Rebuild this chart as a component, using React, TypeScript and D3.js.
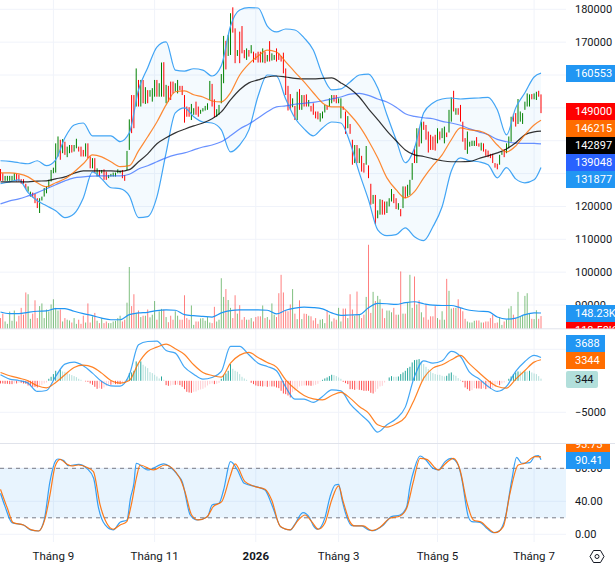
import React from "react";
import * as d3 from "d3";

// ---- daily bars, prices in thousands
const barHigh = [
  131.4,130.1,129.3,129.3,129.3,129.3,130.1,129.9,129.7,128.3,
  128.3,126.9,126.1,124.5,124.2,123.8,122.5,122.5,123.0,125.6,
  126.1,128.1,131.1,131.8,139.2,141.3,140.3,140.5,139.7,138.2,
  138.7,138.7,138.7,140.6,138.2,138.2,137.2,139.2,139.2,135.2,
  134.7,134.7,131.6,131.1,131.1,131.3,130.6,129.6,129.9,130.3,
  130.3,131.3,130.9,131.1,129.6,136.9,146.5,153.9,153.9,162.0,
  158.5,158.5,158.5,156.3,155.4,155.4,156.0,158.5,158.5,157.5,
  163.8,163.9,157.0,156.7,158.0,158.0,157.5,158.5,156.7,156.7,
  153.9,150.4,150.2,151.2,149.9,151.9,150.4,149.4,149.9,150.6,
  151.4,158.2,157.3,152.6,149.6,150.9,160.3,171.9,170.4,172.2,
  178.8,180.6,174.2,167.6,173.2,174.9,167.6,168.1,167.6,169.1,
  167.1,166.6,167.1,167.1,168.1,167.1,166.1,170.3,166.6,166.1,
  168.1,166.6,165.8,166.8,162.0,156.7,154.2,152.9,150.6,154.9,
  155.7,153.9,153.9,154.1,152.4,150.6,151.4,148.9,148.9,148.4,
  148.9,150.9,150.6,152.9,153.9,153.9,153.9,152.9,152.9,150.4,
  148.9,147.5,145.1,140.3,138.7,138.7,137.7,135.4,133.2,138.4,
  132.5,126.9,123.5,123.5,118.8,122.2,122.0,121.5,121.5,122.5,
  125.3,123.8,122.5,121.0,119.2,126.1,126.1,126.6,128.1,133.2,
  138.2,143.8,143.8,145.8,145.8,144.8,142.8,141.8,141.3,141.8,
  143.8,142.8,143.8,144.3,142.5,149.4,153.2,155.2,149.9,149.9,
  150.9,145.8,140.8,142.8,139.7,140.0,140.0,141.1,139.2,139.4,
  139.2,137.4,137.0,136.0,136.0,133.2,133.0,135.7,136.7,137.4,
  139.2,141.3,147.3,148.2,148.4,152.7,148.9,148.4,151.9,154.4,
  154.1,154.2,154.4,154.9,155.2,154.1,
];
const barLow = [
  127.8,127.8,127.8,127.8,127.8,127.8,127.8,127.6,127.6,126.9,
  126.9,125.3,124.5,123.0,122.8,121.0,119.5,118.0,121.8,123.0,
  124.0,125.8,127.6,130.1,130.3,135.2,134.2,136.2,135.7,135.0,
  136.2,136.4,136.7,137.7,136.7,135.2,135.2,135.2,134.7,131.6,
  131.6,130.1,129.1,129.1,130.1,128.1,128.1,128.6,129.1,129.1,
  129.1,130.1,130.1,128.6,127.8,131.1,137.2,142.3,143.8,150.4,
  150.4,150.4,151.4,151.2,151.4,153.4,151.9,153.4,153.4,153.4,
  153.4,153.4,151.4,151.9,152.4,154.4,155.0,154.4,155.4,153.9,
  145.5,147.3,147.3,146.3,147.9,147.9,147.3,148.2,148.9,149.2,
  149.4,152.4,150.4,147.1,147.3,147.9,151.4,157.5,161.7,165.8,
  166.1,172.9,163.6,165.8,163.6,166.6,165.1,164.6,165.6,166.6,
  163.8,164.6,163.8,163.8,163.8,163.6,164.1,164.1,164.4,164.6,
  164.1,164.6,164.1,160.5,153.9,149.2,149.4,150.2,146.3,146.3,
  149.4,149.4,150.4,150.4,150.4,148.9,147.9,146.8,146.5,145.8,
  146.8,148.6,149.4,150.4,151.4,151.9,151.4,151.4,146.8,149.4,
  142.1,143.8,142.1,132.7,133.2,133.2,133.2,130.6,130.3,132.7,
  128.6,120.5,120.8,114.6,116.4,117.5,117.5,117.5,118.0,120.0,
  121.5,121.0,119.2,119.0,117.0,119.5,122.5,123.0,123.5,128.1,
  133.2,133.2,138.2,139.2,143.3,140.3,136.4,137.2,137.2,137.0,
  139.2,140.3,140.8,139.2,141.1,142.5,145.8,148.9,147.9,147.9,
  145.8,139.7,137.2,136.0,138.2,138.4,138.4,138.4,138.2,137.0,
  136.7,135.4,135.0,134.7,133.2,131.8,131.3,132.7,135.7,135.0,
  136.2,137.7,139.7,145.8,144.3,145.1,145.8,145.1,149.4,150.4,
  150.4,152.6,152.6,152.4,153.4,148.4,
];
const barDir = (
  "RRGGGGGRRR" + "RRGGRRRGGG" + "GGGGGGRGRG" + "GRGGRRRGRR" + "GRGRGRRGGG" +
  "GGGRRGGRRG" + "RGRGRGGGRG" + "GRGRRRGGRR" + "RRRGGRRGGG" + "GGRRGGGGRG" +
  "GRRGRRRGRG" + "RRRRGRGRGG" + "RRRRRRRGRG" + "RGRRGRRRRG" + "GGRGGRRGGR" +
  "RGRRGRGRRG" + "RRGRGGRRGG" + "GRRGRGRGGG" + "RGRGRRRRRR" + "GRGGRGGRGR" +
  "RRRGGGGRRG" + "RRRRRRRGGR" + "GGGRRGGGGG" + "GRGGRR"
).split("");

// volume per bar, in K
const volume = [
  99,142,66,43,162,73,172,66,122,198,
  132,347,330,92,142,271,99,215,241,99,
  182,165,231,281,198,172,182,66,99,83,
  76,56,99,43,83,43,122,56,241,56,
  116,149,73,50,99,50,66,50,50,66,
  73,99,122,66,83,248,594,215,330,149,
  172,109,122,122,182,106,132,264,83,165,
  188,182,109,59,122,83,165,122,83,83,
  320,99,83,221,33,66,66,96,99,73,
  109,56,50,208,66,83,485,304,380,274,
  198,99,320,142,224,83,109,83,83,99,
  66,109,116,116,221,99,109,83,241,132,
  109,340,518,347,175,165,231,380,142,89,
  271,89,142,139,122,116,76,99,43,83,
  89,50,175,132,66,96,83,198,66,191,
  191,99,330,182,122,356,132,99,132,304,
  809,149,353,264,314,281,191,99,172,172,
  155,198,132,132,551,142,142,254,518,198,
  502,231,271,155,106,231,83,116,116,215,
  99,83,165,83,479,363,191,198,198,281,
  198,165,92,66,56,56,73,76,76,56,
  56,66,66,99,132,50,56,109,33,66,
  83,191,215,132,99,353,116,122,314,340,
  149,92,89,175,92,118.5,
];

// MACD histogram per bar
const macdHist = [
  -424,-424,-477,-477,-530,-530,-424,-424,-318,-318,
  -424,-477,-742,-848,-954,-954,-1060,-795,-636,-424,
  -265,318,636,1060,1590,1378,1749,1484,1431,1166,
  1060,901,742,583,318,159,0,-106,-159,-424,
  -636,-954,-1272,-1166,-1272,-1060,-848,-636,-636,-530,
  -530,-530,-530,-477,-371,212,1219,1325,1590,3074,
  2756,3074,2544,2279,2014,1378,1219,954,689,371,
  689,159,-689,-795,-742,-636,-636,-583,-689,-954,
  -1325,-1749,-1855,-1908,-1749,-1696,-1484,-1378,-1272,-1060,
  -742,-530,-424,-530,-477,-318,318,954,1166,1590,
  2650,1908,1590,1431,1060,636,371,159,0,-318,
  -530,-742,-848,-848,-901,-848,-954,-901,-901,-901,
  -1060,-1166,-1590,-2014,-2120,-2332,-2650,-1802,-1590,-1325,
  -901,-795,-742,-742,-742,-795,-742,-636,-477,-106,
  159,371,530,742,954,901,742,530,318,-159,
  -371,-530,-1325,-1325,-1431,-1325,-1431,-1484,-1590,-1590,
  -1590,-1908,-2014,-1749,-1272,-901,-795,-265,0,530,
  742,636,636,689,1060,1325,1590,2014,2226,2915,
  3286,3339,3445,3074,2650,2226,1855,1484,1219,1060,
  954,954,795,689,795,1166,1325,954,795,424,
  159,-212,-1060,-1325,-1590,-1484,-1166,-1219,-1219,-1272,
  -1166,-1325,-1219,-1272,-1166,-954,-530,-689,-424,-265,
  -53,318,689,1060,1325,1484,1484,1325,1484,1484,
  1590,1325,1166,1060,742,344,
];

// ---- indicator lines, read every 4th bar plus the last one
const lineIndex = [...d3.range(0, 236, 4), 235];

const bbUpper = [
  133.9,133.7,133.3,133.0,133.9,132.4,134.2,140.9,144.8,145.4,
  141.5,141.5,141.5,139.7,142.4,155.5,162.2,168.5,170.1,161.5,
  161.2,161.9,161.5,159.7,162.8,174.9,179.8,180.5,180.4,174.9,
  173.1,174.0,173.7,171.3,167.6,160.0,155.5,155.8,157.9,160.0,
  160.3,156.1,147.9,140.3,133.3,137.8,148.5,151.5,152.7,153.0,
  152.7,152.9,153.0,153.2,149.4,141.8,150.0,154.6,159.4,160.553,
];
const bbLower = [
  126.9,127.5,128.1,124.2,121.7,120.2,118.7,116.6,117.8,122.6,
  130.5,128.4,125.7,125.4,123.2,116.6,116.9,122.9,136.3,148.5,
  150.0,147.3,145.7,145.4,143.3,136.6,138.7,143.3,153.6,160.0,
  159.7,152.7,146.9,143.6,141.5,143.9,145.7,145.4,139.4,130.2,
  122.0,112.9,111.1,111.4,113.5,110.8,109.6,113.8,119.9,130.8,
  134.8,133.9,133.6,132.7,128.7,131.8,128.4,127.2,128.1,131.877,
];
const bbBasis = [
  130.2,130.2,129.9,129.0,127.2,126.0,127.2,128.4,130.5,133.0,
  135.7,135.1,133.6,132.1,132.4,136.9,141.2,145.7,150.9,154.9,
  155.2,154.0,153.3,152.1,151.8,154.6,160.0,163.4,165.8,167.6,
  167.0,164.0,160.9,157.9,154.6,151.5,150.3,150.3,147.9,144.5,
  140.0,134.8,128.7,125.1,122.6,124.5,128.7,132.4,135.7,140.3,
  143.9,143.3,143.0,141.8,138.7,136.6,138.4,141.8,144.8,146.215,
];
const maBlack = [
  127.5,127.5,127.5,127.5,127.7,127.8,128.4,129.0,130.1,130.8,
  130.8,130.8,130.8,130.7,131.2,133.6,136.0,139.1,140.9,142.4,
  143.5,144.5,145.4,146.7,148.8,152.4,155.5,157.6,158.5,159.4,
  159.7,159.4,159.0,158.8,158.8,159.0,159.1,157.6,155.8,153.3,
  149.7,146.4,143.0,140.0,137.2,135.7,135.2,134.5,133.9,133.6,
  133.6,133.7,134.6,135.4,136.3,137.5,139.4,141.8,142.7,142.897,
];
const maBlue = [
  120.8,121.7,122.3,123.2,124.2,125.4,126.6,127.8,128.7,129.0,
  129.2,129.3,129.3,129.3,129.8,131.4,132.4,133.6,134.8,135.7,
  136.3,137.2,138.1,138.7,139.7,141.5,143.6,145.1,146.9,148.8,
  150.3,150.6,151.1,151.4,151.7,152.1,152.7,153.3,154.2,154.4,
  153.8,152.7,151.8,150.2,148.2,147.4,147.0,146.7,145.9,145.4,
  144.7,143.6,142.7,141.8,140.4,139.7,139.3,139.2,139.2,139.048,
];
const volumeMa = [
  158,142,142,155,165,168,191,191,165,142,
  122,99,83,83,132,149,155,172,178,175,
  132,122,116,109,149,172,178,178,178,175,
  139,175,195,205,201,188,149,125,129,132,
  198,241,238,231,248,257,238,224,221,221,
  198,175,165,162,109,89,99,132,149,148.23,
];
const macdLine = [
  952,265,53,-370,-1693,-1534,688,2645,2962,2380,
  1217,-106,-794,-846,952,5713,6242,6295,4814,4391,
  2169,1058,265,529,1481,5449,5449,4126,2804,2275,
  1587,-1005,-2910,-2910,-3439,-2486,-1428,-1587,-3650,-5131,
  -6454,-8147,-6983,-6031,-4179,688,3174,2804,3174,4655,
  3862,1323,317,-899,-1693,-899,1481,3068,4020,3688,
];
const macdSignal = [
  1323,794,423,0,-794,-1111,-265,952,2116,2486,
  2169,1217,53,-370,53,2804,4655,5343,5819,5078,
  4179,2539,1323,846,582,2804,4073,4497,3703,2910,
  2169,159,-1270,-2328,-2857,-3015,-2328,-1852,-2751,-4073,
  -5131,-6983,-7353,-6824,-5766,-2910,423,2010,2539,3333,
  4020,2645,1323,53,-899,-1164,265,1640,2962,3344,
];

// stochastic turns faster, so its lines are read at their own bars
const stochKIndex = [
  0,2,5,10,13,16.5,19,21.5,24,25,27.5,29.5,34,37.5,40.5,42.5,45.5,49,52,55,
  56.5,58,59,64,71,77,79,82.5,85.5,90,92,95,97,100,103,106,111,115,118,122,
  126,128,131.5,134.5,136,138,141,143.3,145.5,147,148.5,150.5,152.7,157,160,162,166.5,170,173.7,176.6,
  178,180,182.4,185,188,190.4,193.3,196,199,200.5,203.4,204.9,208.5,211.4,214.3,216.4,219.4,222.3,224.4,226.6,
  230.2,232.4,233.8,235,
];
const stochK = [
  49.7,33.5,14.1,11.3,5.3,4,17.4,63.8,89.3,91.3,89.3,83.2,84.8,80,67.9,33.5,11.3,5.3,14.5,17.4,
  43.6,61.8,86.1,78,85.3,71.9,63.8,23.4,17.4,21.4,35.6,37.6,53.7,88.1,78,61.8,57.8,53.7,35.6,8.5,
  5.3,12.5,26.3,19.4,10.5,6.1,19.4,45.7,59.8,60.6,41.6,21.4,10.5,10.1,5.3,4.4,11.3,21.4,23.4,33.5,
  57.8,80,94.9,90.1,80,78,88.1,92.1,84,67.9,21.4,15.4,14.5,7.3,2,3.2,19.4,65.9,93.3,86.1,
  86.9,94.9,95.4,90.41,
];
const stochDIndex = [
  0,3,5.5,10,13.5,16.5,19.4,21.5,23.7,25.9,28.8,31,33.8,37.5,40.4,43.3,46.2,49,52,54.9,
  57,59.2,60.7,66.5,71.5,78,80.2,83.1,86,89.6,92.5,96.2,99.8,102,106.3,110.7,115,117.9,121.5,125.9,
  129.5,132.4,135.3,138.2,141,144,147,149,151.9,154,157.7,161.4,165,169.3,173.7,176.6,179.5,182.4,185.3,190.4,
  193.3,196.9,199.8,202.7,205.6,209.2,212,215,218.6,221.5,225.1,228,232.4,235,
];
const stochD = [
  54.5,31.5,14.1,11.3,5.3,4,19.4,47.7,82,90.9,85.3,82.8,84,81.2,76,35.6,13.3,6.1,11.3,15.4,
  37.6,69.9,84,78,84,67.9,51.7,23.4,17.4,20.6,33.5,39.6,69.9,85.3,63.8,57.8,54.5,41.6,10.1,5.3,
  17.4,23.4,15.4,6.1,13.3,41.6,58.6,39.6,15.4,10.1,10.1,4.4,8.5,19.4,22.2,31.5,63.8,92.1,90.9,78,
  85.3,92.1,78,39.6,17.4,14.5,7.3,2,9.3,49.7,84,86.1,94.1,93.73,
];

// ---- axes
const priceTicks = [180, 170, 160, 150, 140, 130, 120, 110, 100, 90];
const macdTicks = [5000, 0, -5000];
const stochTicks = [80, 40, 0];
const stochLevels = [80, 20];
const timeIndex = [23, 67, 111, 147, 190, 232];
const timeLabels = ["Tháng 9", "Tháng 11", "2026", "Tháng 3", "Tháng 5", "Tháng 7"];

const FONT = "Roboto, sans-serif";
const GRID = "#f0f3fa";
const BORDER = "#e0e3eb";
const BB_BLUE = "#42a5f5";
const AXIS_X = 566;
const TEXT_X = 575;
// scale ticks that sit fully behind a value box in the picture
const coveredPrice = [160, 150, 140, 130];
const coveredMacd = [5000, 0];

const x = d3.scaleLinear().domain([0, 235]).range([0.5, 541]);
const yPrice = d3.scaleLinear().domain([110, 180]).range([239.3, 9.3]);
const yVol = d3.scaleLinear().domain([0, 148.23]).range([328.3, 313]);
const yMacd = d3.scaleLinear().domain([-5000, 5000]).range([412.3, 349.3]);
const yStoch = d3.scaleLinear().domain([0, 80]).range([534.3, 468.3]);

function path(values: number[], y: d3.ScaleLinear<number, number>, index: number[] = lineIndex) {
  const line = d3.line<number>()
    .x((_, i) => x(index[i]))
    .y((d) => y(d))
    .curve(d3.curveMonotoneX);
  return line(values) || "";
}

function priceBox(label: string, top: number, color: string, width = 49, textColor = "#fff") {
  return (
    <g key={label}>
      <rect x={AXIS_X} y={top} width={width} height={17} fill={color} />
      <text x={TEXT_X} y={top + 12.3} fill={textColor} fontSize={11}>{label}</text>
    </g>
  );
}

export default function App() {
  const bbArea = d3.area<number>()
    .x((_, i) => x(lineIndex[i]))
    .y0((_, i) => yPrice(bbLower[i]))
    .y1((d) => yPrice(d))
    .curve(d3.curveMonotoneX)(bbUpper) || "";

  return (
    <svg width={615} height={565} style={{ position: "absolute", left: 0, top: 0, background: "#fff" }} fontFamily={FONT}>
      <defs>
        <clipPath id="topPane"><rect x={0} y={0} width={615} height={328.5} /></clipPath>
        <clipPath id="stochPane"><rect x={0} y={444} width={615} height={99} /></clipPath>
      </defs>

      {/* grid */}
      {priceTicks.map((t) => (
        <line key={t} x1={0} x2={AXIS_X} y1={yPrice(t)} y2={yPrice(t)} stroke={GRID} strokeWidth={1} />
      ))}
      {macdTicks.filter((t) => t !== 0).map((t) => (
        <line key={t} x1={0} x2={AXIS_X} y1={yMacd(t)} y2={yMacd(t)} stroke={GRID} strokeWidth={1} />
      ))}
      {stochTicks.map((t) => (
        <line key={t} x1={0} x2={AXIS_X} y1={yStoch(t)} y2={yStoch(t)} stroke={GRID} strokeWidth={1} />
      ))}
      {timeIndex.map((i) => (
        <line key={i} x1={x(i)} x2={x(i)} y1={0} y2={542} stroke={GRID} strokeWidth={1} />
      ))}
      <line x1={0} x2={615} y1={328.8} y2={328.8} stroke={BORDER} />
      <line x1={0} x2={615} y1={443.5} y2={443.5} stroke={BORDER} strokeWidth={1} />

      {/* main pane */}
      <path d={bbArea} fill="#2196f3" fillOpacity={0.05} />
      {barHigh.map((h, i) => (
        <line
          key={i}
          x1={x(i)}
          x2={x(i)}
          y1={yPrice(h)}
          y2={yPrice(barLow[i])}
          stroke={barDir[i] === "G" ? "#008000" : "#ff0000"}
          strokeWidth={1}
        />
      ))}
      <path d={path(bbUpper, yPrice)} fill="none" stroke={BB_BLUE} strokeWidth={1.2} />
      <path d={path(bbLower, yPrice)} fill="none" stroke={BB_BLUE} strokeWidth={1.2} />
      <path d={path(maBlue, yPrice)} fill="none" stroke="#2962ff" strokeOpacity={0.7} strokeWidth={1.2} />
      <path d={path(maBlack, yPrice)} fill="none" stroke="#000" strokeOpacity={0.8} strokeWidth={1.2} />
      <path d={path(bbBasis, yPrice)} fill="none" stroke="#ff6d00" strokeOpacity={0.8} strokeWidth={1.2} />

      {/* volume */}
      {volume.map((v, i) => (
        <line
          key={i}
          x1={x(i)}
          x2={x(i)}
          y1={yVol(v)}
          y2={yVol(0)}
          stroke={barDir[i] === "G" ? "#008000" : "#ff0000"}
          strokeOpacity={0.5}
          strokeWidth={1}
        />
      ))}
      <path d={path(volumeMa, yVol)} fill="none" stroke="#2196f3" strokeWidth={1.2} />

      {/* macd */}
      {macdHist.map((v, i) => {
        const prev = i > 0 ? macdHist[i - 1] : v;
        const color = v >= 0 ? (prev < v ? "#26a69a" : "#b2dfdb") : (prev < v ? "#ffcdd2" : "#ff5252");
        return <line key={i} x1={x(i)} x2={x(i)} y1={yMacd(0)} y2={yMacd(v)} stroke={color} strokeWidth={1} />;
      })}
      <path d={path(macdLine, yMacd)} fill="none" stroke="#2196f3" strokeOpacity={0.85} strokeWidth={1.2} />
      <path d={path(macdSignal, yMacd)} fill="none" stroke="#ff6d00" strokeOpacity={0.85} strokeWidth={1.2} />

      {/* stochastic */}
      <rect
        x={0}
        width={AXIS_X}
        y={yStoch(stochLevels[0])}
        height={yStoch(stochLevels[1]) - yStoch(stochLevels[0])}
        fill="#2196f3"
        fillOpacity={0.1}
      />
      {stochLevels.map((t) => (
        <line key={t} x1={0} x2={AXIS_X} y1={yStoch(t)} y2={yStoch(t)} stroke="#787b86" strokeDasharray="4 4" />
      ))}
      <path d={path(stochK, yStoch, stochKIndex)} fill="none" stroke="#2196f3" strokeOpacity={0.9} strokeWidth={1.2} />
      <path d={path(stochD, yStoch, stochDIndex)} fill="none" stroke="#ff6d00" strokeOpacity={0.9} strokeWidth={1.2} />

      {/* price scale */}
      <g fill="#131722" fontSize={11}>
        {priceTicks.filter((t) => !coveredPrice.includes(t)).map((t) => (
          <text key={t} x={TEXT_X} y={yPrice(t) + 4}>{t * 1000}</text>
        ))}
        {macdTicks.filter((t) => !coveredMacd.includes(t)).map((t) => (
          <text key={t} x={TEXT_X} y={yMacd(t) + 4}>{d3.format("d")(t).replace("-", "−")}</text>
        ))}
        {stochTicks.map((t) => (
          <text key={t} x={TEXT_X} y={yStoch(t) + 4}>{t.toFixed(2)}</text>
        ))}
      </g>

      {priceBox("160553", 65, "#2196f3")}
      {priceBox("149000", 103, "#ff0000")}
      {priceBox("146215", 120, "#ff6d00")}
      {priceBox("142897", 137, "#000000")}
      {priceBox("139048", 154, "#2962ff")}
      {priceBox("131877", 171, "#2196f3")}

      <g clipPath="url(#topPane)">
        {priceBox("118.50K", 322, "#ff0000")}
      </g>
      {priceBox("148.23K", 305, "#2196f3")}

      {priceBox("3688", 335, "#2196f3", 39)}
      {priceBox("3344", 352, "#ff6d00", 39)}
      <g>
        <rect x={AXIS_X} y={371} width={32} height={17} rx={2} fill="#b2dfdb" />
        <text x={TEXT_X} y={383.3} fill="#131722" fontSize={11}>344</text>
      </g>

      <g clipPath="url(#stochPane)">
        {priceBox("93.73", 435.5, "#ff6d00", 44)}
      </g>
      {priceBox("90.41", 452, "#2196f3", 44)}

      {/* time axis */}
      {timeIndex.map((i, n) => (
        <text
          key={i}
          x={x(i)}
          y={560}
          textAnchor="middle"
          fontSize={11.5}
          fontWeight={timeLabels[n] === "2026" ? 700 : 400}
          fill="#131722"
        >
          {timeLabels[n]}
        </text>
      ))}

      {/* settings icon */}
      <g transform="translate(597,556.5)" fill="none" stroke="#131722" strokeWidth={1}>
        <path d="M-7 0 L-3.5 -6 L3.5 -6 L7 0 L3.5 6 L-3.5 6 Z" />
        <circle r={2} />
      </g>
    </svg>
  );
}
